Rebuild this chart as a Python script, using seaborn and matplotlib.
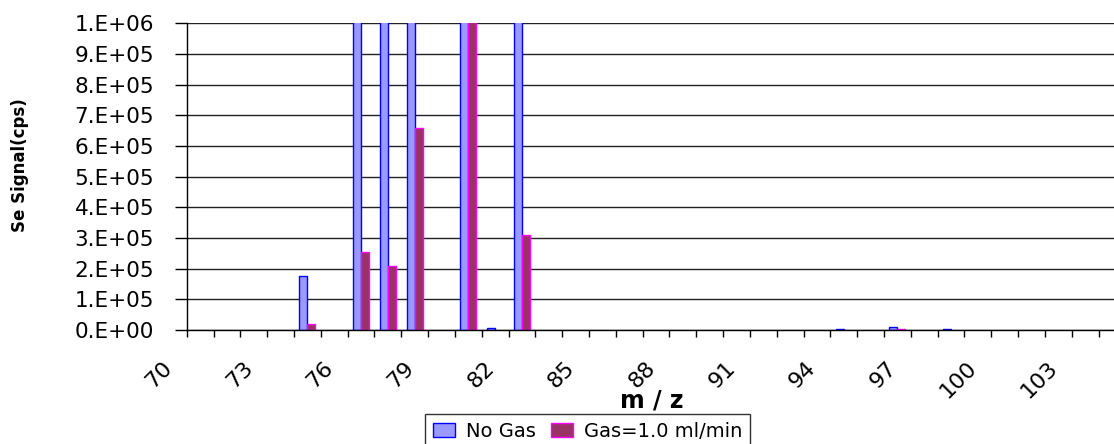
import numpy as np
import pandas as pd
import matplotlib
matplotlib.use("Agg")
import matplotlib.pyplot as plt
import matplotlib.transforms as mtransforms
from matplotlib.ticker import FixedLocator, FuncFormatter
from matplotlib.patches import Patch
import seaborn as sns

# m/z channels scanned
mz = list(range(70, 106))

# Se signal (cps) without collision gas
no_gas = [0, 0, 0, 0, 175000, 0, 1840000, 1500000, 4700000, 0,
          9800000, 6000, 1720000, 0, 0, 0, 0, 0, 0, 0,
          0, 0, 0, 0, 3000, 0, 9000, 0, 3000, 0,
          0, 0, 0, 0, 0, 0]

# Se signal (cps) with 1.0 ml/min collision gas
gas = [0, 0, 0, 0, 20000, 0, 255000, 210000, 660000, 0,
       1370000, 0, 310000, 0, 0, 0, 0, 0, 0, 0,
       0, 0, 0, 0, 0, 0, 2000, 0, 0, 0,
       0, 0, 0, 0, 0, 0]

series = ["No Gas", "Gas=1.0 ml/min"]
fills = ["#9999FF", "#993366"]
edges = ["#0000FF", "#FF00FF"]
tick_labels = [str(v) for v in mz[::3]]
y_ticks = [i * 1.0e5 for i in range(11)]

sns.set_style("white")
plt.rcParams["font.family"] = ["DejaVu Sans"]
plt.rcParams["text.color"] = "black"
plt.rcParams["xtick.color"] = "black"
plt.rcParams["ytick.color"] = "black"

df = pd.DataFrame({
    "mz": mz * 2,
    "signal": no_gas + gas,
    "series": [series[0]] * len(mz) + [series[1]] * len(mz),
})

W, H = 1114, 444
fig = plt.figure(figsize=(W / 100, H / 100), dpi=100)
ax = fig.add_axes([186.7 / W, 114 / H, 965.5 / W, 306.7 / H])

sns.barplot(data=df, x="mz", y="signal", hue="series", order=mz,
            hue_order=series, palette=fills, saturation=1, width=0.6,
            gap=0, legend=False, ax=ax, zorder=2)

for cont, ec in zip(ax.containers, edges):
    for bar in cont:
        if bar.get_height() > 0:
            bar.set_edgecolor(ec)
            bar.set_linewidth(1.0)
        else:
            bar.set_edgecolor("none")
            bar.set_linewidth(0)

ax.set_xlim(-0.5, len(mz) - 0.5)
ax.set_ylim(0, 1.0e6)

# y axis: scientific labels like 1.E+06
def sci(v, pos):
    if abs(v) < 1:
        return "0.E+00"
    e = int(np.floor(np.log10(abs(v)) + 1e-9))
    return f"{v / 10 ** e:.0f}.E+{e:02d}"

ax.yaxis.set_major_locator(FixedLocator(y_ticks))
ax.yaxis.set_major_formatter(FuncFormatter(sci))
ax.tick_params(axis="y", which="major", length=8.4, width=1, color="black",
               pad=15, labelsize=15.5, left=True, labelcolor="black")
ax.yaxis.grid(True, color="#222222", linewidth=1.0)
ax.set_axisbelow(True)

# x axis: labels every third channel, tick marks between channels
ax.xaxis.set_major_locator(FixedLocator(list(range(0, len(mz), 3))))
ax.set_xticklabels(tick_labels)
ax.xaxis.set_minor_locator(FixedLocator(np.arange(-0.5, len(mz), 1.0)))
ax.tick_params(axis="x", which="major", length=0, pad=0, labelsize=16,
               labelcolor="black")
ax.tick_params(axis="x", which="minor", length=4.8, width=1, color="black",
               bottom=True)
offset = mtransforms.ScaledTranslation(-31 / 100, -35 / 100, fig.dpi_scale_trans)
for lab in ax.get_xticklabels():
    lab.set_rotation(45)
    lab.set_ha("right")
    lab.set_va("center")
    lab.set_rotation_mode("anchor")
    lab.set_transform(lab.get_transform() + offset)

ax.set_xlabel("")
ax.set_ylabel("")
for side in ["top", "right"]:
    ax.spines[side].set_visible(False)
for side in ["left", "bottom"]:
    ax.spines[side].set_color("black")
    ax.spines[side].set_linewidth(1.0)

fig.text(652 / W, 1 - 400 / H, "m / z", ha="center", va="center",
         fontsize=17, fontweight="bold", color="black")
fig.text(20 / W, 1 - 165 / H, "Se Signal(cps)", rotation=90, ha="center",
         va="center", fontsize=12, fontweight="bold", color="black")

handles = [Patch(facecolor=f, edgecolor=e, linewidth=1) for f, e in zip(fills, edges)]
leg = fig.legend(handles, series, loc="upper left",
                 bbox_to_anchor=(425 / W, 1 - 414 / H), ncol=2, frameon=True,
                 fancybox=False, fontsize=14, handlelength=1.13,
                 handleheight=0.7, handletextpad=0.58, columnspacing=0.77,
                 borderpad=0.4, borderaxespad=0)
leg.get_frame().set_edgecolor("black")
leg.get_frame().set_linewidth(1.0)
for t in leg.get_texts():
    t.set_color("black")

fig.savefig("out.png", dpi=100)
